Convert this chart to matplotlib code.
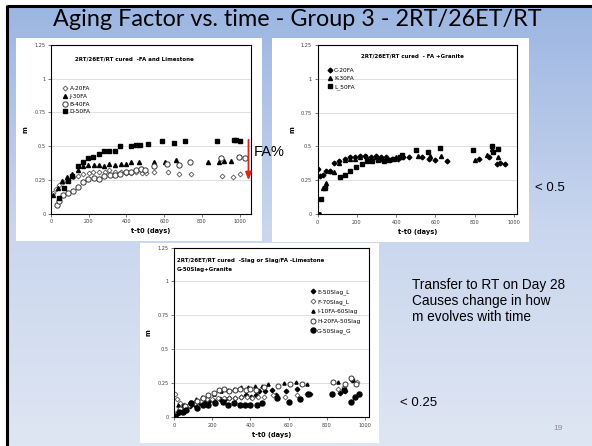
import numpy as np
import matplotlib
matplotlib.use("Agg")
import matplotlib.pyplot as plt
from matplotlib.patches import Rectangle
from matplotlib.colors import LinearSegmentedColormap

W, H = 592, 446

# ---------------- data ----------------
# Panel 1: FA and Limestone
A_x = [10, 25, 45, 65, 90, 115, 145, 170, 200, 225, 255, 285, 310, 340, 370, 400, 425, 450, 480, 505, 545, 620, 680, 740, 905, 965, 1000]
A_y = [0.15, 0.18, 0.21, 0.23, 0.25, 0.27, 0.28, 0.29, 0.30, 0.31, 0.31, 0.31, 0.32, 0.31, 0.31, 0.30, 0.30, 0.31, 0.30, 0.30, 0.31, 0.31, 0.29, 0.29, 0.28, 0.27, 0.29]
J_x = [12, 35, 60, 84, 111, 141, 169, 198, 226, 254, 282, 309, 337, 371, 399, 422, 468, 544, 604, 664, 830, 892, 915, 954]
J_y = [0.14, 0.19, 0.24, 0.27, 0.29, 0.32, 0.35, 0.36, 0.36, 0.36, 0.35, 0.37, 0.36, 0.37, 0.37, 0.38, 0.38, 0.38, 0.38, 0.40, 0.38, 0.38, 0.39, 0.39]
B_x = [30, 44, 65, 88, 115, 141, 169, 198, 226, 254, 283, 311, 339, 367, 396, 422, 450, 476, 500, 544, 616, 678, 738, 902, 994, 1028]
B_y = [0.066, 0.096, 0.135, 0.152, 0.17, 0.194, 0.233, 0.255, 0.262, 0.257, 0.28, 0.287, 0.287, 0.294, 0.306, 0.311, 0.324, 0.328, 0.324, 0.35, 0.365, 0.36, 0.385, 0.41, 0.417, 0.41]
D_x = [41, 67, 90, 113, 141, 169, 198, 224, 253, 282, 310, 339, 366, 423, 450, 474, 512, 588, 652, 710, 878, 968, 980, 1000]
D_y = [0.116, 0.19, 0.24, 0.28, 0.35, 0.38, 0.41, 0.42, 0.44, 0.46, 0.46, 0.46, 0.50, 0.50, 0.51, 0.51, 0.515, 0.537, 0.525, 0.54, 0.537, 0.547, 0.545, 0.54]

# Panel 2: FA + Granite
C_x = [5, 15, 27, 42, 64, 85, 108, 140, 166, 190, 215, 242, 270, 298, 325, 350, 380, 410, 437, 465, 530, 565, 600, 660, 820, 870, 915, 930, 955]
C_y = [0.33, 0.28, 0.29, 0.32, 0.32, 0.38, 0.39, 0.41, 0.42, 0.42, 0.43, 0.43, 0.42, 0.43, 0.42, 0.42, 0.41, 0.41, 0.42, 0.42, 0.42, 0.41, 0.40, 0.39, 0.41, 0.42, 0.37, 0.38, 0.37]
K_x = [8, 14, 27, 42, 64, 85, 110, 140, 165, 190, 215, 245, 270, 300, 330, 360, 400, 430, 510, 570, 630, 800, 860, 890, 920]
K_y = [0.0, 0.0, 0.19, 0.23, 0.32, 0.31, 0.38, 0.40, 0.41, 0.41, 0.42, 0.43, 0.41, 0.42, 0.41, 0.41, 0.42, 0.43, 0.43, 0.43, 0.43, 0.40, 0.44, 0.48, 0.42]
L_x = [18, 40, 112, 140, 166, 195, 225, 252, 279, 310, 337, 364, 389, 420, 428, 499, 563, 623, 792, 887, 895, 918]
L_y = [0.11, 0.19, 0.27, 0.29, 0.32, 0.35, 0.37, 0.39, 0.39, 0.40, 0.39, 0.40, 0.41, 0.42, 0.44, 0.47, 0.46, 0.49, 0.47, 0.50, 0.46, 0.48]

# Panel 3: Slag or Slag/FA
E_x = [20, 40, 60, 85, 110, 135, 160, 185, 210, 240, 265, 290, 320, 350, 377, 405, 430, 447, 476, 511, 534, 586, 646, 709, 869, 895, 930]
E_y = [0.03, 0.04, 0.06, 0.08, 0.09, 0.10, 0.11, 0.12, 0.12, 0.13, 0.13, 0.14, 0.14, 0.15, 0.16, 0.15, 0.16, 0.19, 0.19, 0.20, 0.16, 0.19, 0.21, 0.17, 0.18, 0.19, 0.27]
F_x = [5, 14, 30, 50, 80, 110, 140, 170, 200, 230, 260, 290, 320, 350, 380, 410, 440, 470, 520, 581, 642, 695, 860, 887, 930, 956]
F_y = [0.17, 0.13, 0.10, 0.09, 0.09, 0.10, 0.12, 0.13, 0.13, 0.14, 0.14, 0.14, 0.14, 0.15, 0.15, 0.14, 0.15, 0.15, 0.16, 0.15, 0.16, 0.17, 0.21, 0.22, 0.28, 0.26]
I_x = [23, 45, 84, 115, 145, 180, 211, 246, 281, 314, 349, 389, 424, 459, 494, 576, 639, 695, 860, 935]
I_y = [0.09, 0.09, 0.11, 0.13, 0.15, 0.16, 0.17, 0.19, 0.20, 0.21, 0.22, 0.22, 0.23, 0.23, 0.24, 0.25, 0.26, 0.24, 0.26, 0.27]
Hs_x = [5, 30, 60, 90, 120, 150, 180, 210, 235, 260, 290, 320, 345, 375, 400, 430, 470, 546, 607, 668, 830, 897, 928, 953]
Hs_y = [0.02, 0.06, 0.08, 0.10, 0.12, 0.14, 0.16, 0.18, 0.20, 0.21, 0.19, 0.20, 0.21, 0.20, 0.21, 0.20, 0.22, 0.23, 0.24, 0.24, 0.26, 0.24, 0.29, 0.24]
G_x = [5, 26, 45, 65, 87, 119, 150, 180, 215, 255, 285, 316, 346, 372, 398, 433, 459, 541, 599, 660, 703, 826, 890, 927, 948, 967]
G_y = [0.01, 0.04, 0.04, 0.05, 0.10, 0.07, 0.09, 0.09, 0.10, 0.11, 0.09, 0.10, 0.09, 0.09, 0.09, 0.09, 0.10, 0.14, 0.11, 0.13, 0.17, 0.17, 0.20, 0.11, 0.15, 0.17]

y_ticks = [0, 0.25, 0.5, 0.75, 1, 1.25]
y_ticklabels = ["0", "0.25", "0.5", "0.75", "1", "1.25"]
x_ticks = [0, 200, 400, 600, 800, 1000]

title = "Aging Factor vs. time - Group 3 - 2RT/26ET/RT"

# ---------------- figure ----------------
fig = plt.figure(figsize=(W / 100, H / 100), dpi=100)

def rect(l, t, r, b):
    return [l / W, 1 - b / H, (r - l) / W, (b - t) / H]

# background
bg = fig.add_axes([0, 0, 1, 1], zorder=-5)
bg.set_xlim(0, W)
bg.set_ylim(H, 0)
bg.axis("off")
grad = np.linspace(0, 1, 256).reshape(-1, 1)
cmap = LinearSegmentedColormap.from_list("g", ["#9cb6e2", "#c9d6ee", "#dfe6f3"])
bg.imshow(grad, extent=[7, W, H, 6], aspect="auto", cmap=cmap, zorder=0)
bg.add_patch(Rectangle((0, 0), W, 5, facecolor="white", edgecolor="none", zorder=1))
bg.add_patch(Rectangle((0, 0), 6, H, facecolor="white", edgecolor="none", zorder=1))
bg.plot([7, W], [5.5, 5.5], color="black", lw=2.2, zorder=2, solid_capstyle="butt")
bg.plot([7, 7], [5, H], color="black", lw=2.2, zorder=2, solid_capstyle="butt")
# white chart boxes
for (l, t, r, b) in [(16, 38, 262, 241), (272, 38, 529, 242), (140, 243, 379, 443)]:
    bg.add_patch(Rectangle((l, t), r - l, b - t, facecolor="white", edgecolor="none", zorder=3))

FS_TICK = 3.6
FS_LEG = 4.2

def style(ax, xmax):
    ax.set_xlim(0, xmax)
    ax.set_ylim(0, 1.25)
    ax.set_yticks(y_ticks)
    ax.set_yticklabels(y_ticklabels)
    ax.set_xticks(x_ticks)
    ax.tick_params(labelsize=FS_TICK, length=2, width=0.5, pad=2, colors="#404040")
    for s in ax.spines.values():
        s.set_color("black")
        s.set_linewidth(0.8)
    ax.grid(axis="y", color="#d9d9d9", lw=0.6)
    ax.set_axisbelow(True)
    ax.set_xlabel("t-t0 (days)", fontsize=4.8, fontweight="bold", labelpad=3)
    ax.set_ylabel("m", fontsize=4.8, fontweight="bold", labelpad=4)

# Panel 1
ax1 = fig.add_axes(rect(51, 45, 251, 213.5))
style(ax1, 1060)
ax1.plot(A_x, A_y, "D", ms=2.5, mfc="white", mec="#555555", mew=0.6, ls="none", label="A-20FA")
ax1.plot(J_x, J_y, "^", ms=2.9, color="black", ls="none", label="J-30FA")
ax1.plot(B_x, B_y, "o", ms=3.8, mfc="white", mec="#333333", mew=0.7, ls="none", label="B-40FA")
ax1.plot(D_x, D_y, "s", ms=3.3, color="black", ls="none", label="D-50FA")
ax1.text(0.12, 0.915, "2RT/26ET/RT cured  -FA and Limestone", transform=ax1.transAxes,
         fontsize=4.0, fontweight="bold", va="center", ha="left")
ax1.legend(loc="upper left", bbox_to_anchor=(0.04, 0.78), frameon=False, fontsize=FS_LEG,
           handlelength=0.8, handletextpad=0.3, labelspacing=0.45, borderpad=0.2)

# Panel 2
ax2 = fig.add_axes(rect(317.5, 45, 517, 214))
style(ax2, 1015)
ax2.plot(C_x, C_y, "D", ms=2.4, color="black", ls="none", label="C-20FA")
ax2.plot(K_x, K_y, "^", ms=2.9, color="black", ls="none", label="K-30FA")
ax2.plot(L_x, L_y, "s", ms=3.3, color="black", ls="none", label="L_50FA")
ax2.text(0.218, 0.937, "2RT/26ET/RT cured  - FA +Granite", transform=ax2.transAxes,
         fontsize=4.0, fontweight="bold", va="center", ha="left")
ax2.legend(loc="upper left", bbox_to_anchor=(0.03, 0.89), frameon=False, fontsize=FS_LEG,
           handlelength=0.8, handletextpad=0.3, labelspacing=0.55, borderpad=0.2)

# Panel 3
ax3 = fig.add_axes(rect(174, 247.5, 369, 417))
style(ax3, 1020)
ax3.plot(E_x, E_y, "D", ms=2.3, color="black", ls="none", label="E-50Slag_L")
ax3.plot(F_x, F_y, "D", ms=2.5, mfc="white", mec="#555555", mew=0.6, ls="none", label="F-70Slag_L")
ax3.plot(I_x, I_y, "^", ms=2.3, color="black", ls="none", label="I-10FA-60Slag")
ax3.plot(Hs_x, Hs_y, "o", ms=3.6, mfc="white", mec="#333333", mew=0.7, ls="none", label="H-20FA-50Slag")
ax3.plot(G_x, G_y, "o", ms=3.6, color="black", ls="none", label="G-50Slag_G")
ax3.text(0.015, 0.926, "2RT/26ET/RT cured  -Slag or Slag/FA -Limestone", transform=ax3.transAxes,
         fontsize=4.0, fontweight="bold", va="center", ha="left")
ax3.text(0.015, 0.873, "G-50Slag+Granite", transform=ax3.transAxes,
         fontsize=4.0, fontweight="bold", va="center", ha="left")
ax3.legend(loc="upper left", bbox_to_anchor=(0.68, 0.78), frameon=False, fontsize=FS_LEG,
           handlelength=0.8, handletextpad=0.3, labelspacing=0.75, borderpad=0.2)

# overlay for annotations
ov = fig.add_axes([0, 0, 1, 1], zorder=10)
ov.set_xlim(0, W)
ov.set_ylim(H, 0)
ov.axis("off")
ov.patch.set_alpha(0)
ov.text(297, 20, title, fontsize=16.8, family="Lato", ha="center", va="center", color="black")
ov.annotate("", xy=(248.5, 183), xytext=(248.5, 137),
            arrowprops=dict(arrowstyle="-|>,head_width=0.18,head_length=0.45", color="#e0241b", lw=1.3))
ov.text(254, 152, "FA%", fontsize=10.5, family="Liberation Sans", ha="left", va="center")
ov.text(535, 188, "< 0.5", fontsize=9.5, family="Liberation Sans", ha="left", va="center")
ov.text(412, 301, "Transfer to RT on Day 28\nCauses change in how\nm evolves with time",
        fontsize=9.8, family="Liberation Sans", ha="left", va="center", linespacing=1.15)
ov.text(400, 403, "< 0.25", fontsize=9.5, family="Liberation Sans", ha="left", va="center")
ov.text(558, 429, "19", fontsize=6, family="Liberation Sans", ha="center", va="center", color="#8c8c8c")

fig.savefig("out.png", dpi=100)
